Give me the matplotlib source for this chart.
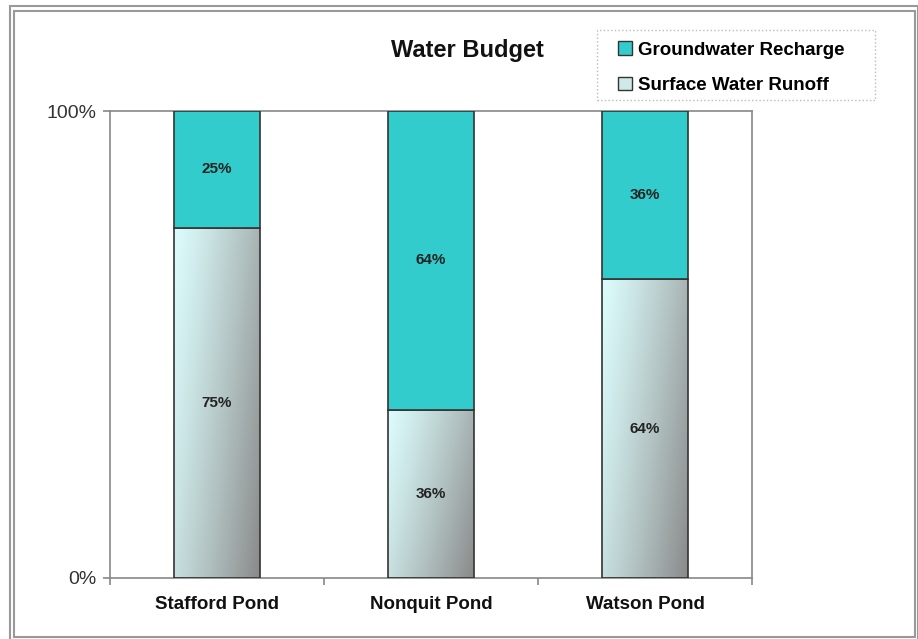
import numpy as np
import matplotlib
matplotlib.use("Agg")
import matplotlib.pyplot as plt
from matplotlib.patches import Rectangle, Patch

plt.rcParams['font.family'] = ['Liberation Sans', 'DejaVu Sans']

# Data
ponds = ["Stafford Pond", "Nonquit Pond", "Watson Pond"]
runoff = [75, 36, 64]       # Surface Water Runoff (%)
recharge = [25, 64, 36]     # Groundwater Recharge (%)
y_ticks = [0, 100]
y_tick_labels = ["0%", "100%"]

W, H = 918, 639
fig = plt.figure(figsize=(W / 100, H / 100), dpi=100)
fig.patch.set_facecolor("white")

# plot area
l, r, t, b = 110, 752, 111, 578
ax = fig.add_axes([l / W, 1 - b / H, (r - l) / W, (b - t) / H])
ax.set_xlim(0, 3)
ax.set_ylim(0, 100)

x = np.arange(len(ponds)) + 0.5
width = 0.4
edge = "#333333"
teal = "#33cccc"

# gradient for runoff segments: light cyan top-left to gray bottom-right
c0 = np.array([220, 252, 252]) / 255.0
c1 = np.array([138, 138, 138]) / 255.0
ny, nx = 200, 60
u = np.linspace(0, 1, nx)[None, :]
v = np.linspace(0, 1, ny)[:, None]
tt = np.clip(0.68 * u + 0.32 * v, 0, 1) ** 1.2
grad = c0[None, None, :] * (1 - tt[..., None]) + c1[None, None, :] * tt[..., None]

runoff_bars = ax.bar(x, runoff, width=width, color="none", edgecolor=edge,
                     linewidth=1.2, zorder=3)
for bar in runoff_bars:
    x0, y0 = bar.get_x(), bar.get_y()
    w, h = bar.get_width(), bar.get_height()
    im = ax.imshow(grad, extent=(x0, x0 + w, y0, y0 + h), origin="upper",
                   aspect="auto", zorder=2, interpolation="bilinear")
    im.set_clip_path(bar)

recharge_bars = ax.bar(x, recharge, bottom=runoff, width=width, color=teal,
                       edgecolor=edge, linewidth=1.2, zorder=3)

for xi, ro, rc in zip(x, runoff, recharge):
    ax.text(xi, ro / 2, f"{ro}%", ha="center", va="center", fontsize=11,
            fontweight="bold", color="#222222", zorder=4)
    ax.text(xi, ro + rc / 2, f"{rc}%", ha="center", va="center", fontsize=11,
            fontweight="bold", color="#222222", zorder=4)

ax.set_xlim(0, 3)
ax.set_ylim(0, 100)

for s in ax.spines.values():
    s.set_color("#888888")
    s.set_linewidth(1.2)

ax.set_yticks(y_ticks)
ax.set_yticklabels(y_tick_labels, fontsize=14, color="#333333")
ax.tick_params(axis="y", length=5, width=1.2, color="#888888", direction="out", pad=5)

ax.set_xticks(x)
ax.set_xticklabels(ponds, fontsize=13.5, fontweight="bold", color="#111111")
ax.tick_params(axis="x", length=0, pad=13)
ax.set_xticks([0, 1, 2, 3], minor=True)
ax.tick_params(axis="x", which="minor", length=5, width=1.2, color="#888888",
               direction="out")

# title
fig.text(467 / W, 1 - 51 / H, "Water Budget", ha="center", va="center",
         fontsize=17, fontweight="bold", color="#111111")

# legend (entries without frame, dotted box drawn separately)
handles = [Patch(facecolor=teal, edgecolor=edge, label="Groundwater Recharge"),
           Patch(facecolor="#cfe8e8", edgecolor=edge, label="Surface Water Runoff")]
leg = fig.legend(handles=handles, loc="upper left",
                 bbox_to_anchor=(608 / W, 1 - 31 / H), frameon=False,
                 prop={"size": 13.5, "weight": "bold"},
                 handlelength=0.75, handleheight=0.75, handletextpad=0.3,
                 labelspacing=0.95, borderpad=0.55, borderaxespad=0)
fig.add_artist(Rectangle((597 / W, 1 - 100 / H), (875 - 597) / W, (100 - 30) / H,
                         transform=fig.transFigure, fill=False,
                         edgecolor="#bbbbbb", linestyle=":", linewidth=1.0))

# outer chart frame (double line)
fig.add_artist(Rectangle((9.5 / W, 1 - 640 / H), (918 - 9.5) / W, (640 - 5.5) / H,
                         transform=fig.transFigure, fill=False,
                         edgecolor="#999999", linewidth=1.5))
fig.add_artist(Rectangle((13.5 / W, 1 - 637 / H), (915 - 13.5) / W, (637 - 11) / H,
                         transform=fig.transFigure, fill=False,
                         edgecolor="#999999", linewidth=1.5))

fig.savefig("out.png", dpi=100)
